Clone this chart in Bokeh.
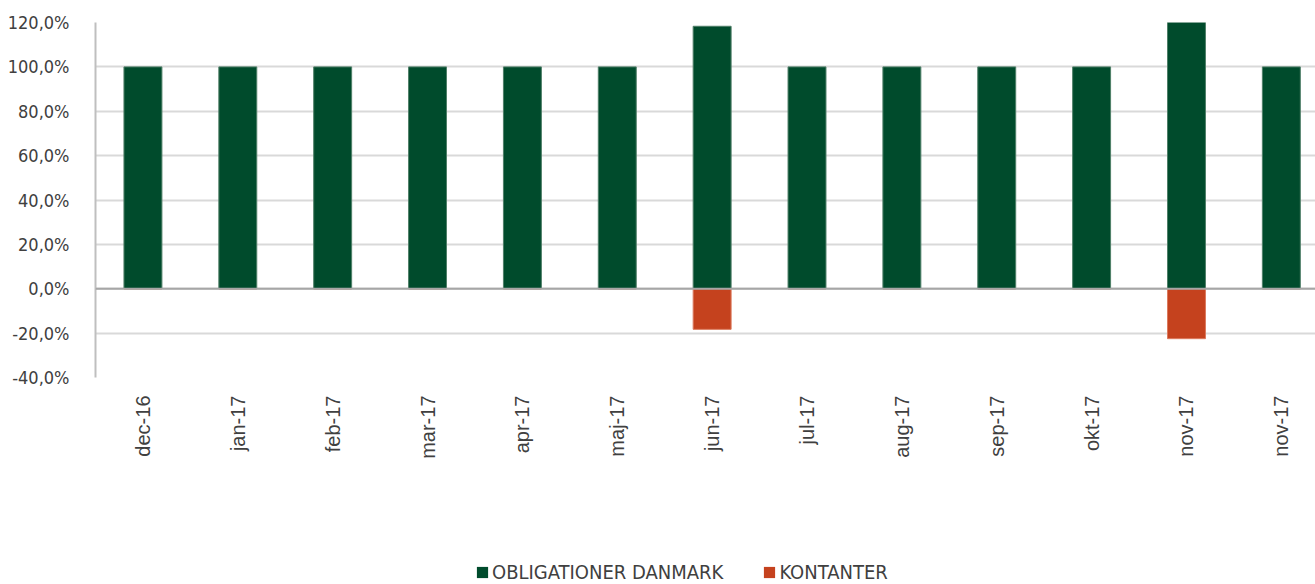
import math
from bokeh.plotting import figure
from bokeh.layouts import column
from bokeh.models import (ColumnDataSource, Range1d, FixedTicker, Span, Legend, LegendItem)
from bokeh.embed import file_html
from bokeh.resources import INLINE

# ---- data ----
months = ["dec-16", "jan-17", "feb-17", "mar-17", "apr-17", "maj-17", "jun-17",
          "jul-17", "aug-17", "sep-17", "okt-17", "nov-17", "nov-17"]
obligationer = [100.0, 100.0, 100.0, 100.0, 100.0, 100.0, 118.3,
                100.0, 100.0, 100.0, 100.0, 122.5, 100.0]
kontanter = [0.0, 0.0, 0.0, 0.0, 0.0, 0.0, -18.3,
             0.0, 0.0, 0.0, 0.0, -22.5, 0.0]
y_ticks = [-40, -20, 0, 20, 40, 60, 80, 100, 120]
y_tick_labels = ["-40,0%", "-20,0%", "0,0%", "20,0%", "40,0%", "60,0%",
                 "80,0%", "100,0%", "120,0%"]
series_names = ["OBLIGATIONER DANMARK", "KONTANTER"]

GREEN = "#004B2C"
RED = "#C5421E"
TXT = "#404040"

x = list(range(len(months)))
src = ColumnDataSource(dict(x=x, ob=obligationer, ko=kontanter))

p = figure(width=1315, height=540, output_backend="svg", toolbar_location=None,
           x_range=Range1d(-0.5, 12.36), y_range=Range1d(-40, 120),
           min_border_left=95, min_border_right=0, min_border_top=22,
           min_border_bottom=163)
p.outline_line_color = None
p.background_fill_color = "white"

bar_kw = dict(x="x", bottom=0, width=0.4, source=src, line_width=1)
r1 = p.vbar(top="ob", fill_color=GREEN, line_color="#4F7F68", **bar_kw)
r2 = p.vbar(top="ko", fill_color=RED, line_color="#DB7A5E", **bar_kw)

p.add_layout(Span(location=0, dimension="width", line_color="#A6A6A6", line_width=2))

# grid
p.xgrid.grid_line_color = None
p.ygrid.grid_line_color = "#D9D9D9"
p.ygrid.grid_line_width = 2
p.ygrid.ticker = FixedTicker(ticks=y_ticks)

# y axis
p.yaxis.ticker = FixedTicker(ticks=y_ticks)
p.yaxis.major_label_overrides = {t: l for t, l in zip(y_ticks, y_tick_labels)}
p.yaxis.axis_line_color = "#BFBFBF"
p.yaxis.axis_line_width = 2
p.yaxis.major_tick_line_color = None
p.yaxis.minor_tick_line_color = None
p.yaxis.major_label_standoff = 20
p.yaxis.major_label_text_font = "DejaVu Sans Condensed"
p.yaxis.major_label_text_font_size = "18px"
p.yaxis.major_label_text_color = TXT

# x axis
p.xaxis.ticker = FixedTicker(ticks=x)
p.xaxis.major_label_overrides = {i: m for i, m in zip(x, months)}
p.xaxis.axis_line_color = None
p.xaxis.major_tick_line_color = None
p.xaxis.minor_tick_line_color = None
p.xaxis.major_label_orientation = math.pi / 2
p.xaxis.major_label_standoff = 12
p.xaxis.major_label_text_font = "Liberation Sans"
p.xaxis.major_label_text_font_size = "20px"
p.xaxis.major_label_text_color = TXT

# ---- legend strip (separate figure, hidden proxy renderers) ----
lg = figure(width=1315, height=44, output_backend="svg", toolbar_location=None,
            x_range=Range1d(-0.5, 12.36), y_range=Range1d(-40, 120),
            x_axis_type=None, y_axis_type=None, min_border=0)
lg.outline_line_color = None
lg.grid.grid_line_color = None
q1 = lg.vbar(top="ob", fill_color=GREEN, line_color=None, x="x", bottom=0,
             width=0.4, source=src, visible=False)
q2 = lg.vbar(top="ko", fill_color=RED, line_color=None, x="x", bottom=0,
             width=0.4, source=src, visible=False)

legend = Legend(items=[LegendItem(label=series_names[0], renderers=[q1]),
                       LegendItem(label=series_names[1], renderers=[q2])],
                orientation="horizontal", location=(380, 0),
                glyph_width=14, glyph_height=14, label_standoff=3, spacing=39,
                padding=0, margin=0, border_line_color=None,
                background_fill_alpha=0, inactive_fill_alpha=0,
                label_text_font="DejaVu Sans Condensed",
                label_text_font_size="20px", label_text_color=TXT)
lg.add_layout(legend, "center")

layout = column(p, lg, spacing=0)
open("out.html", "w").write(file_html(layout, INLINE))
